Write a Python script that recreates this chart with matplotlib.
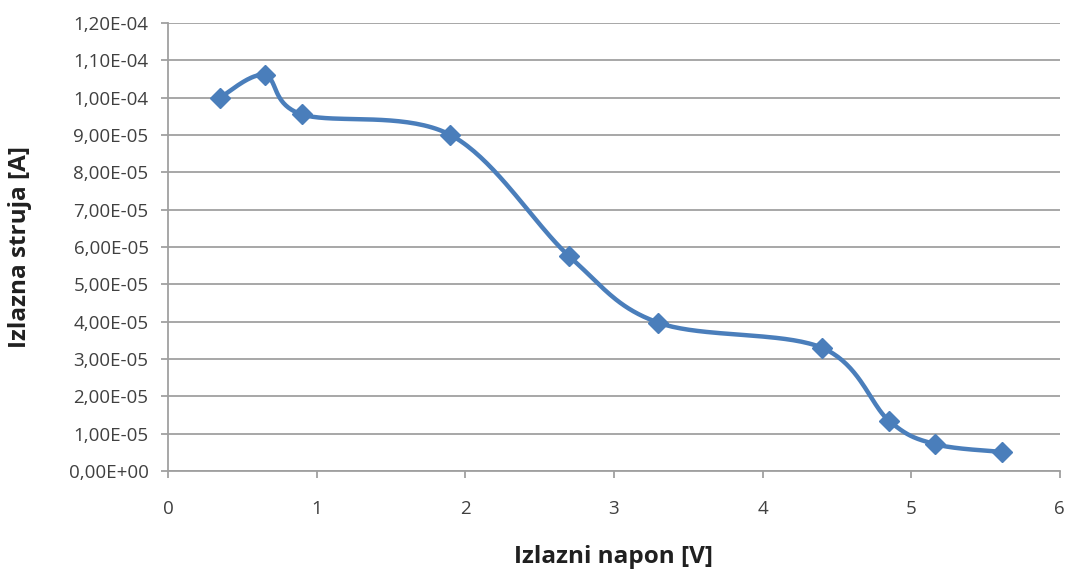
import matplotlib
matplotlib.use("Agg")
import matplotlib.pyplot as plt
import numpy as np
from matplotlib.ticker import FuncFormatter

# measured points
napon = [0.35, 0.65, 0.90, 1.90, 2.70, 3.30, 4.40, 4.85, 5.16, 5.61]
struja = [1.00e-4, 1.06e-4, 9.55e-5, 9.00e-5, 5.75e-5, 3.97e-5, 3.30e-5, 1.35e-5, 7.2e-6, 5.1e-6]

BLUE = "#4a7ebb"
GRID = "#a0a0a0"
TXT = "#404040"


def smooth(x, y, n=40):
    # Excel-like smoothed line: Catmull-Rom style Bezier segments
    p = np.column_stack([x, y])
    pts = np.vstack([p[0], p, p[-1]])
    out = []
    t = np.linspace(0, 1, n)[:, None]
    for i in range(1, len(pts) - 2):
        p0, p1, p2, p3 = pts[i - 1], pts[i], pts[i + 1], pts[i + 2]
        c1 = p1 + (p2 - p0) / 6
        c2 = p2 - (p3 - p1) / 6
        seg = ((1 - t) ** 3) * p1 + 3 * ((1 - t) ** 2) * t * c1 + 3 * (1 - t) * t ** 2 * c2 + t ** 3 * p2
        out.append(seg)
    s = np.vstack(out)
    return s[:, 0], s[:, 1]


plt.rcParams["font.family"] = ["Open Sans", "DejaVu Sans"]
fig = plt.figure(figsize=(10.68, 5.76), dpi=100)
ax = fig.add_axes([0.1573, 0.1823, 0.835, 0.778])

sx, sy = smooth(napon, struja)
ax.plot(sx, sy, color=BLUE, lw=3.2, solid_capstyle="round", zorder=3)
ax.plot(napon, struja, ls="none", marker="D", ms=10, color=BLUE, zorder=4)

ax.set_xlim(0, 6)
ax.set_ylim(0, 1.2e-4)
ax.set_xticks(range(7))
ax.set_yticks(np.arange(0, 1.21e-4, 1e-5))
ax.yaxis.set_major_formatter(FuncFormatter(lambda v, _: f"{v:.2E}".replace(".", ",")))
ax.grid(axis="y", color=GRID, lw=1.3)
ax.set_axisbelow(True)
for s in ("top", "right"):
    ax.spines[s].set_visible(False)
for s in ("left", "bottom"):
    ax.spines[s].set_color(GRID)
    ax.spines[s].set_linewidth(1.3)
ax.tick_params(colors=GRID, labelcolor=TXT, labelsize=13.5, length=5, width=1.3)
ax.tick_params(axis="x", pad=16)
ax.tick_params(axis="y", pad=9)

ax.set_xlabel("Izlazni napon [V]", fontsize=17.5, fontweight="bold", color="#202020")
ax.set_ylabel("Izlazna struja [A]", fontsize=17.5, fontweight="bold", color="#202020")
ax.xaxis.set_label_coords(0.5, -0.165)
ax.yaxis.set_label_coords(-0.152, 0.5)

fig.savefig("out.png", dpi=100)
